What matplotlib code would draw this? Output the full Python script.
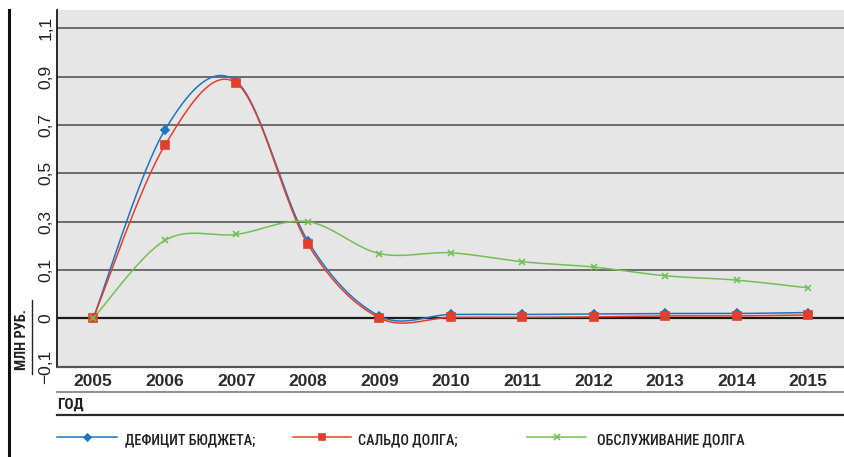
import numpy as np
import matplotlib
matplotlib.use("Agg")
import matplotlib.pyplot as plt
from matplotlib.lines import Line2D

# --- data (млн руб.) ---
years = [2005, 2006, 2007, 2008, 2009, 2010, 2011, 2012, 2013, 2014, 2015]
deficit = [0.0, 0.678, 0.880, 0.220, 0.005, 0.008, 0.008, 0.009, 0.010, 0.010, 0.012]
saldo = [0.0, 0.615, 0.873, 0.207, 0.001, 0.002, 0.002, 0.003, 0.005, 0.005, 0.007]
service = [0.0, 0.222, 0.247, 0.300, 0.168, 0.171, 0.134, 0.112, 0.088, 0.079, 0.063]

ytick_vals = [-0.1, 0.0, 0.1, 0.3, 0.5, 0.7, 0.9, 1.1]
ytick_labels = ["\u22120,1", "0", "0,1", "0,3", "0,5", "0,7", "0,9", "1,1"]

series_names = ["ДЕФИЦИТ БЮДЖЕТА;", "САЛЬДО ДОЛГА;", "ОБСЛУЖИВАНИЕ ДОЛГА"]
colors = ["#1f74bd", "#e23f2b", "#71c152"]
markers = ["D", "s", "x"]
msizes = [4, 5.5, 5]

W, H = 844, 457
TXT = "#231f20"
NARROW = ["Roboto Condensed", "Fira Sans Condensed", "Sofia Sans Condensed", "DejaVu Sans"]


# axis is uneven: 0..0.1 takes as much room as each 0.2 step above
def fwd(v):
    v = np.asarray(v, dtype=float)
    return np.where(v <= 0.1, v / 0.1, 1 + (v - 0.1) / 0.2)


def inv(p):
    p = np.asarray(p, dtype=float)
    return np.where(p <= 1, p * 0.1, 0.1 + (p - 1) * 0.2)


def smooth(xs, ys, n=40):
    # Catmull-Rom style bezier smoothing done in scaled (screen-like) space
    xs = np.asarray(xs, float)
    ps = fwd(ys)
    P = np.column_stack([xs, ps])
    out = []
    for i in range(len(P) - 1):
        p0 = P[i - 1] if i > 0 else P[i]
        p1, p2 = P[i], P[i + 1]
        p3 = P[i + 2] if i + 2 < len(P) else P[i + 1]
        c1 = p1 + (p2 - p0) / 6
        c2 = p2 - (p3 - p1) / 6
        t = np.linspace(0, 1, n)[:, None]
        seg = ((1 - t) ** 3) * p1 + 3 * ((1 - t) ** 2) * t * c1 + 3 * (1 - t) * t ** 2 * c2 + t ** 3 * p2
        out.append(seg if i == 0 else seg[1:])
    seg = np.vstack(out)
    return seg[:, 0], inv(seg[:, 1])


fig = plt.figure(figsize=(W / 100, H / 100), dpi=100)
ax = fig.add_axes([57.5 / W, (H - 366.7) / H, (W - 57.5) / W, (366.7 - 10) / H])
ax.set_facecolor("#e6e6e7")
ax.set_yscale("function", functions=(fwd, inv))
ax.set_xlim(2004.5, 2015.5)
ax.set_ylim(-0.1, 1.175)

# grid
for v in ytick_vals[2:]:
    ax.axhline(v, color="#4a4a4a", lw=1.1, zorder=1)
ax.axhline(0, color="#1a1a1a", lw=1.6, zorder=1)

for vals, c, m, ms in zip([deficit, saldo, service], colors, markers, msizes):
    sx, sy = smooth(years, vals)
    ax.plot(sx, sy, color=c, lw=1.1, zorder=3)
    ax.plot(years, vals, ls="none", marker=m, ms=ms, color=c, mew=1.2, zorder=4)

for s in ["top", "right"]:
    ax.spines[s].set_visible(False)
ax.spines["left"].set_color("#1a1a1a")
ax.spines["left"].set_linewidth(1.3)
ax.spines["bottom"].set_color("#555555")
ax.spines["bottom"].set_linewidth(1.6)

ax.set_xticks(years)
ax.set_xticklabels([str(y) for y in years], fontsize=12.5, fontweight="bold",
                   color="#2b2b2b", family=["Liberation Sans", "DejaVu Sans"])
ax.set_yticks(ytick_vals)
ax.set_yticklabels(ytick_labels, rotation=90, va="center", fontsize=12.5,
                   color=TXT, family=["Liberation Sans", "DejaVu Sans"])
ax.tick_params(axis="both", length=0)
ax.tick_params(axis="x", pad=5)
ax.tick_params(axis="y", pad=3)
ax.yaxis.set_minor_locator(matplotlib.ticker.NullLocator())


def fx(px):
    return px / W


def fy(py):
    return 1 - py / H


# frame decorations
fig.add_artist(Line2D([fx(8.5), fx(8.5)], [fy(10), fy(457)], color="#111111", lw=2.2))
fig.add_artist(Line2D([fx(32), fx(32)], [fy(300), fy(374)], color="#222222", lw=1.0))
fig.text(fx(22), fy(339), "МЛН РУБ.", rotation=90, ha="center", va="center",
         fontsize=10.5, fontweight="bold", color=TXT, family=NARROW)

fig.add_artist(Line2D([fx(57), 1], [fy(392), fy(392)], color="#7a7a7a", lw=1.2))
fig.text(fx(57), fy(405), "ГОД", ha="left", va="center", fontsize=11,
         fontweight="bold", color=TXT, family=NARROW)
fig.add_artist(Line2D([fx(57), 1], [fy(415), fy(415)], color="#2a2a2a", lw=1.6))

# legend
leg_x = [(57, 117, 125), (293, 351, 358), (527, 586, 597)]
ly = fy(437)
for (x0, x1, tx), name, c, m, ms in zip(leg_x, series_names, colors, markers, msizes):
    fig.add_artist(Line2D([fx(x0), fx(x1)], [ly, ly], color=c, lw=1.1))
    fig.add_artist(Line2D([fx((x0 + x1) / 2)], [ly], marker=m, ms=ms - 0.5, color=c, mew=1.2, ls="none"))
    fig.text(fx(tx), fy(440), name, ha="left", va="center", fontsize=10.3,
             fontweight="medium", color=TXT, family=NARROW)

fig.savefig("out.png", dpi=100)
